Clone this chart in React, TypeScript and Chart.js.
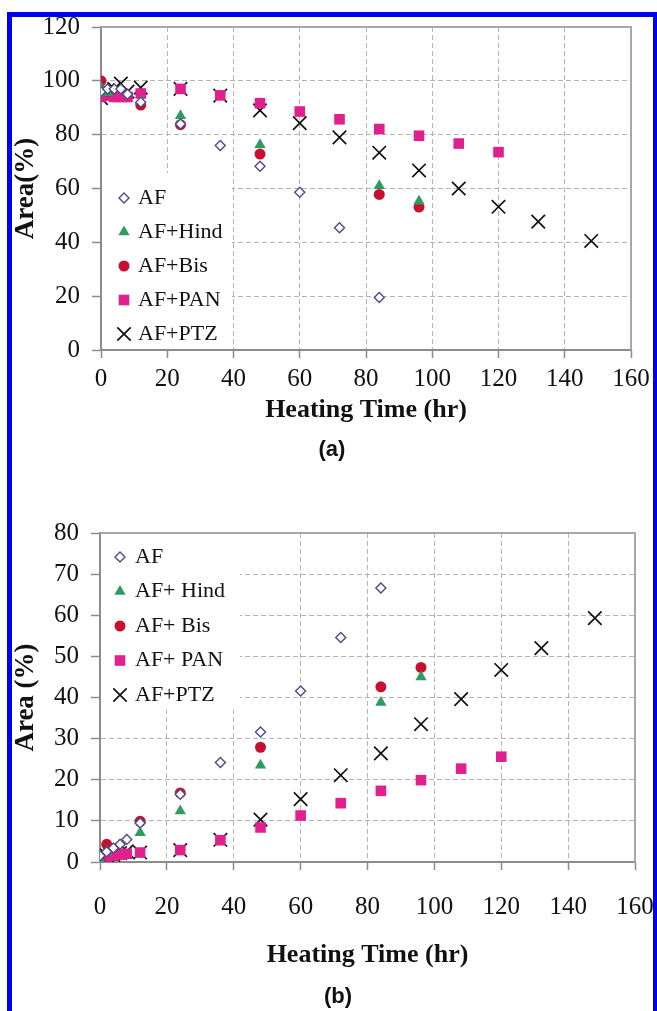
import React, { useEffect, useRef } from 'react';
import { Chart, registerables } from 'chart.js';
import { drawPoint } from 'chart.js/helpers';

Chart.register(...registerables);

// ---------- data ----------
const X_MIN = 0;
const X_MAX = 160;
const X_STEP = 20;

const T_AF = [0, 2, 4, 6, 8, 12, 24, 36, 48, 60, 72, 84];
const T_HB = [0, 2, 12, 24, 48, 84, 96];
const T_PAN = [0, 2, 4, 6, 8, 12, 24, 36, 48, 60, 72, 84, 96, 108, 120];
const T_PTZ = [0, 2, 4, 6, 8, 12, 24, 36, 48, 60, 72, 84, 96, 108, 120, 132, 148];

const LABELS_A = ['AF', 'AF+Hind', 'AF+Bis', 'AF+PAN', 'AF+PTZ'];
const LABELS_B = ['AF', 'AF+ Hind', 'AF+ Bis', 'AF+ PAN', 'AF+PTZ'];

// panel (a): remaining area (%)
const AF_A = [96, 97, 97, 97, 95, 92, 84, 76, 68.3, 58.6, 45.4, 19.5];
const HIND_A = [97.5, 95.5, 92.5, 87, 76.3, 61, 55.3];
const BIS_A = [100, 96, 91, 83.7, 72.8, 57.8, 53.1];
const PAN_A = [94, 94.5, 94, 94, 94, 95.3, 97, 94.6, 91.7, 88.6, 85.7, 82.1, 79.6, 76.7, 73.5];
const PTZ_A = [93.6, 96.5, 97, 99, 96, 97.5, 97, 94.5, 89, 84.3, 79, 73.3, 66.7, 60, 53.2, 47.7, 40.5];

// panel (b): formed area (%)
const AF_B = [1.5, 2.5, 3.4, 4.3, 5.5, 9.5, 16.5, 24.2, 31.6, 41.6, 54.6, 66.6];
const HIND_B = [0.5, 2.5, 7.1, 12.4, 23.5, 38.8, 45.0];
const BIS_B = [0, 4.3, 9.9, 16.8, 27.9, 42.6, 47.3];
const PAN_B = [1.2, 1.3, 1.5, 1.8, 2.0, 2.3, 2.9, 5.3, 8.4, 11.3, 14.3, 17.3, 19.9, 22.7, 25.6];
const PTZ_B = [1.4, 1.6, 1.8, 2.2, 2.6, 2.3, 2.9, 5.4, 10.3, 15.3, 21.1, 26.4, 33.5, 39.6, 46.7, 52.0, 59.3];

const Y_MAX_A = 120;
const Y_STEP_A = 20;
const Y_MAX_B = 80;
const Y_STEP_B = 10;

// ---------- styles ----------
const SERIF = '"Liberation Serif", "Times New Roman", serif';
const SANS = '"Liberation Sans", Arial, sans-serif';
const TEXT = '#111111';
const AXIS = '#8c8c8c';
const GRID = '#b4b4b4';

const STYLES = [
  { pointStyle: 'rectRot', radius: 5, borderWidth: 1.4, fill: '#ffffff', stroke: '#4a4a8c' },
  { pointStyle: 'triangle', radius: 6.5, borderWidth: 0, fill: '#2e9c60', stroke: '#2e9c60' },
  { pointStyle: 'circle', radius: 5.5, borderWidth: 0, fill: '#c8102e', stroke: '#c8102e' },
  { pointStyle: 'rect', radius: 7.5, borderWidth: 0, fill: '#e0208c', stroke: '#e0208c' },
  { pointStyle: 'crossRot', radius: 9.5, borderWidth: 1.7, fill: '#111111', stroke: '#111111' },
];

const decorPlugin = {
  id: 'decor',
  beforeDatasetsDraw(chart: any, _args: any, opts: any) {
    const { ctx, chartArea: ca } = chart;
    ctx.save();
    // legend box (white, covers the grid)
    const b = opts.box;
    const x0 = ca.left + b[0];
    const y0 = b[1] >= 0 ? ca.top + b[1] : ca.bottom + b[1];
    const x1 = ca.left + b[2];
    const y1 = b[3] >= 0 ? ca.top + b[3] : ca.bottom + b[3];
    ctx.fillStyle = '#ffffff';
    ctx.fillRect(x0, y0, x1 - x0, y1 - y0);
    // top and right frame
    ctx.strokeStyle = '#a8a8a8';
    ctx.lineWidth = 2;
    ctx.beginPath();
    ctx.moveTo(ca.left, ca.top);
    ctx.lineTo(ca.right, ca.top);
    ctx.lineTo(ca.right, ca.bottom);
    ctx.stroke();
    // legend items
    chart.data.datasets.forEach((ds: any, i: number) => {
      const y = ca.top + opts.rowY0 + i * opts.rowDy;
      const mx = ca.left + opts.markerX;
      ctx.fillStyle = ds.pointBackgroundColor;
      ctx.strokeStyle = ds.pointBorderColor;
      ctx.lineWidth = ds.pointBorderWidth;
      drawPoint(ctx, { pointStyle: ds.pointStyle, rotation: 0, radius: ds.pointRadius, borderWidth: ds.pointBorderWidth }, mx, y);
      ctx.fillStyle = TEXT;
      ctx.font = `22px ${SERIF}`;
      ctx.textBaseline = 'middle';
      ctx.textAlign = 'left';
      ctx.fillText(ds.label, ca.left + opts.textX, y);
    });
    ctx.restore();
  },
};

function makeDatasets(labels: string[], times: number[][], values: number[][]) {
  return labels.map((label, i) => {
    const s = STYLES[i];
    return {
      label,
      data: times[i].map((t, j) => ({ x: t, y: values[i][j] })),
      showLine: false,
      pointStyle: s.pointStyle,
      pointRadius: s.radius,
      pointHoverRadius: s.radius,
      pointBorderWidth: s.borderWidth,
      pointBackgroundColor: s.fill,
      pointBorderColor: s.stroke,
      backgroundColor: s.fill,
      borderColor: s.stroke,
    };
  });
}

const zeroPad = (s: any) => {
  s.paddingLeft = 0;
  s.paddingRight = 0;
  s.paddingTop = 0;
  s.paddingBottom = 0;
};

function makeConfig(p: any) {
  return {
    type: 'scatter',
    data: { datasets: makeDatasets(p.labels, p.times, p.values) },
    plugins: [decorPlugin],
    options: {
      responsive: false,
      animation: false,
      events: [],
      layout: { padding: p.padding },
      plugins: {
        legend: { display: false },
        tooltip: { enabled: false },
        decor: p.legend,
      },
      scales: {
        x: {
          type: 'linear',
          position: 'bottom',
          min: X_MIN,
          max: X_MAX,
          ticks: { stepSize: X_STEP, color: TEXT, font: { family: SERIF, size: 25 }, padding: p.xTickPad, maxRotation: 0, autoSkip: false },
          grid: { color: GRID, lineWidth: 1, tickLength: 8, tickColor: AXIS, tickWidth: 1.5, tickBorderDash: [] },
          border: { display: true, color: AXIS, width: 2, dash: [5, 3] },
          title: { display: true, text: 'Heating Time (hr)', color: TEXT, font: { family: SERIF, size: 26, weight: 'bold' }, padding: { top: 0, bottom: 0 } },
          afterFit: (s: any) => { s.height = p.xAxisH; zeroPad(s); },
        },
        y: {
          type: 'linear',
          min: 0,
          max: p.yMax,
          ticks: { stepSize: p.yStep, color: TEXT, font: { family: SERIF, size: 25 }, padding: 12 },
          grid: { color: GRID, lineWidth: 1, tickLength: 9, tickColor: AXIS, tickWidth: 1.5, tickBorderDash: [] },
          border: { display: true, color: AXIS, width: 2, dash: [5, 3] },
          title: { display: true, text: p.yTitle, color: TEXT, font: { family: SERIF, size: 27, weight: 'bold' }, padding: { top: 10, bottom: 0 } },
          afterFit: (s: any) => { s.width = p.yAxisW; zeroPad(s); },
        },
      },
    },
  };
}

const CONFIG_A = () => makeConfig({
  labels: LABELS_A,
  times: [T_AF, T_HB, T_HB, T_PAN, T_PTZ],
  values: [AF_A, HIND_A, BIS_A, PAN_A, PTZ_A],
  yMax: Y_MAX_A,
  yStep: Y_STEP_A,
  yTitle: 'Area(%)',
  yAxisW: 101,
  xAxisH: 76,
  xTickPad: 6,
  padding: { left: 0, right: 26, top: 27, bottom: 74 },
  legend: { box: [1, 146, 131, -1], rowY0: 171, rowDy: 34, markerX: 23, textX: 37 },
});

const CONFIG_B = () => makeConfig({
  labels: LABELS_B,
  times: [T_AF, T_HB, T_HB, T_PAN, T_PTZ],
  values: [AF_B, HIND_B, BIS_B, PAN_B, PTZ_B],
  yMax: Y_MAX_B,
  yStep: Y_STEP_B,
  yTitle: 'Area (%)',
  yAxisW: 100,
  xAxisH: 109,
  xTickPad: 22,
  padding: { left: 0, right: 22, top: 33, bottom: 40 },
  legend: { box: [1, 1, 140, 177], rowY0: 24, rowDy: 34.5, markerX: 20, textX: 35 },
});

function Panel({ top, height, make }: { top: number; height: number; make: () => any }) {
  const ref = useRef<HTMLCanvasElement>(null);
  useEffect(() => {
    const chart = new Chart(ref.current as HTMLCanvasElement, make());
    return () => chart.destroy();
  }, []);
  return (
    <canvas
      ref={ref}
      width={657}
      height={height}
      style={{ position: 'absolute', left: 0, top, width: 657, height }}
    />
  );
}

export default function App() {
  return (
    <div style={{ position: 'absolute', left: 0, top: 0, width: 657, height: 1011, overflow: 'hidden', background: '#ffffff' }}>
      <div style={{ position: 'absolute', left: 7, top: 12, width: 651, height: 1100, boxSizing: 'border-box', border: '5px solid #0000ee' }} />
      <Panel top={0} height={500} make={CONFIG_A} />
      <Panel top={500} height={511} make={CONFIG_B} />
      <div style={{ position: 'absolute', left: 282, width: 100, top: 435, textAlign: 'center', font: `bold 22px ${SANS}`, color: TEXT, lineHeight: '28px' }}>(a)</div>
      <div style={{ position: 'absolute', left: 288, width: 100, top: 982, textAlign: 'center', font: `bold 22px ${SANS}`, color: TEXT, lineHeight: '28px' }}>(b)</div>
    </div>
  );
}
